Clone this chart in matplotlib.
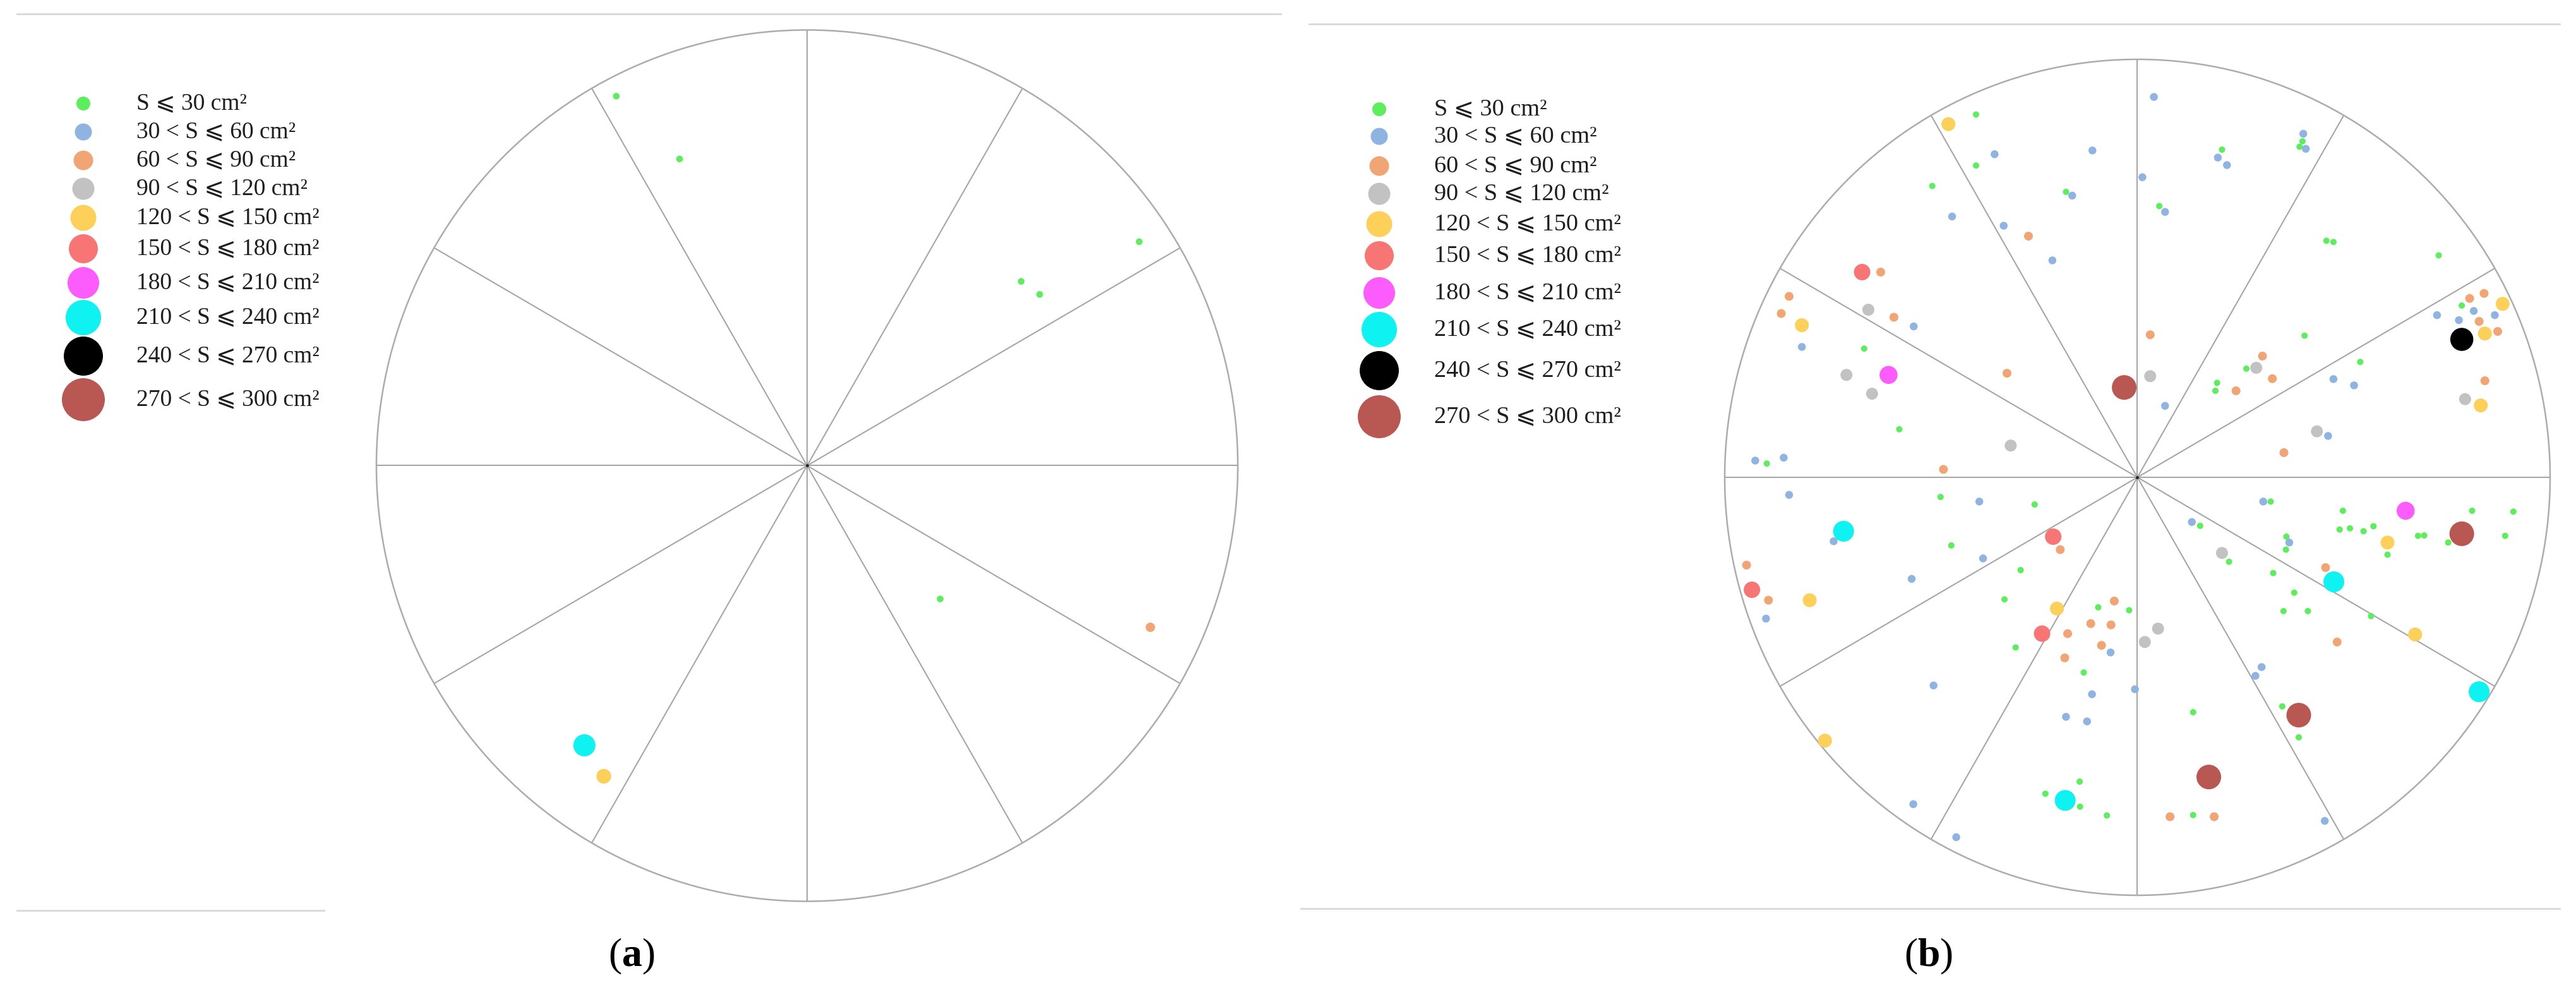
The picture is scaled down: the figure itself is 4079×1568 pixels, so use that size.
import numpy as np
import matplotlib
matplotlib.use("Agg")
import matplotlib.pyplot as plt
from matplotlib.patches import Circle

plt.rcParams['mathtext.fontset'] = 'custom'
plt.rcParams['mathtext.rm'] = 'Liberation Serif'
plt.rcParams['mathtext.bf'] = 'Liberation Serif:bold'

# ---------------- data ----------------
labels = ['S ⩽ 30 cm²', '30 < S ⩽ 60 cm²', '60 < S ⩽ 90 cm²', '90 < S ⩽ 120 cm²',
          '120 < S ⩽ 150 cm²', '150 < S ⩽ 180 cm²', '180 < S ⩽ 210 cm²',
          '210 < S ⩽ 240 cm²', '240 < S ⩽ 270 cm²', '270 < S ⩽ 300 cm²']
colors = ['#5cee5c', '#8fb4e2', '#f2a574', '#c2c2c2', '#fdd05a',
          '#f87575', '#fb5cfb', '#0ff2f2', '#000000', '#b95752']
panel_sizes_px = [10, 12.5, 14, 19, 22, 26, 28.5, 33, 36.5, 39]
legend_sizes_px = [22, 27, 31, 35, 41, 46, 50, 56, 62, 68]

# panel (a): positions normalised to the circle radius
a_x = [-0.443, -0.296, 0.771, 0.497, 0.540, 0.309, 0.797, -0.517, -0.472]
a_y = [0.848, 0.704, 0.514, 0.423, 0.393, -0.306, -0.371, -0.642, -0.713]
a_cat = [0, 0, 0, 0, 0, 0, 2, 7, 4]

# panel (b)
b_x = [-0.458, -0.391, -0.346, -0.109, -0.391, -0.497, -0.173, -0.158, -0.449, -0.324,
       -0.264, -0.206, -0.667, -0.622, -0.844, -0.863, -0.813, -0.652, -0.590, -0.542,
       -0.813, -0.662, -0.705, -0.603, -0.643, -0.316, -0.032, -0.577, -0.307, -0.926,
       -0.898, -0.857, -0.470,
       0.040, 0.402, 0.400, 0.393, 0.408, 0.205, 0.195, 0.217, 0.012, 0.053,
       0.067, 0.458, 0.475, 0.730, 0.840, 0.805, 0.885, 0.786, 0.815, 0.726,
       0.779, 0.866, 0.828, 0.842, 0.873, 0.786, 0.031, 0.405, 0.303, 0.288,
       0.264, 0.327, 0.193, 0.189, 0.239, 0.031, 0.067, 0.540, 0.475, 0.525,
       0.842, 0.794, 0.832, 0.435, 0.462, 0.355,
       -0.844, -0.477, -0.383, -0.249, -0.712, -0.736, -0.451, -0.374, -0.204, -0.187,
       -0.283, -0.947, -0.934, -0.894, -0.794, -0.900, -0.547, -0.322, -0.195, -0.231,
       -0.169, -0.095, -0.056, -0.020, -0.113, -0.064, -0.087, -0.065, -0.176, -0.295,
       -0.130, -0.110, -0.006, -0.173, -0.122, -0.494, -0.757, -0.140, -0.223, -0.175,
       -0.139, -0.074, -0.543, -0.439,
       0.305, 0.323, 0.498, 0.650, 0.811, 0.911, 0.132, 0.152, 0.490, 0.515,
       0.548, 0.572, 0.786, 0.680, 0.695, 0.753, 0.891, 0.606, 0.606, 0.361,
       0.368, 0.360, 0.205, 0.222, 0.329, 0.456, 0.476, 0.380, 0.354, 0.413,
       0.566, 0.673, 0.484, 0.050, 0.018, 0.301, 0.286, 0.828, 0.351, 0.391,
       0.391, 0.135, 0.173, 0.079, 0.135, 0.186, 0.454]
b_y = [0.845, 0.868, 0.773, 0.782, 0.746, 0.697, 0.683, 0.674, 0.624, 0.602,
       0.577, 0.519, 0.491, 0.491, 0.433, 0.392, 0.364, 0.401, 0.383, 0.361,
       0.312, 0.308, 0.245, 0.245, 0.200, 0.249, 0.215, 0.115, 0.076, 0.040,
       0.033, 0.047, 0.019,
       0.910, 0.822, 0.804, 0.791, 0.786, 0.784, 0.765, 0.747, 0.718, 0.649,
       0.635, 0.566, 0.563, 0.531, 0.440, 0.428, 0.415, 0.411, 0.398, 0.388,
       0.376, 0.388, 0.373, 0.344, 0.349, 0.330, 0.341, 0.339, 0.290, 0.262,
       0.260, 0.236, 0.226, 0.207, 0.207, 0.242, 0.171, 0.276, 0.235, 0.220,
       0.231, 0.187, 0.172, 0.110, 0.099, 0.059,
       -0.042, -0.047, -0.058, -0.065, -0.129, -0.153, -0.163, -0.194, -0.142, -0.173,
       -0.222, -0.210, -0.269, -0.294, -0.294, -0.338, -0.243, -0.292, -0.314, -0.374,
       -0.374, -0.311, -0.296, -0.318, -0.350, -0.353, -0.402, -0.419, -0.432, -0.407,
       -0.467, -0.519, -0.507, -0.573, -0.584, -0.498, -0.630, -0.728, -0.757, -0.773,
       -0.788, -0.809, -0.782, -0.861,
       -0.058, -0.058, -0.080, -0.080, -0.080, -0.082, -0.107, -0.116, -0.125, -0.122,
       -0.129, -0.117, -0.135, -0.140, -0.139, -0.156, -0.140, -0.156, -0.185, -0.142,
       -0.156, -0.173, -0.181, -0.202, -0.229, -0.216, -0.250, -0.276, -0.320, -0.320,
       -0.332, -0.376, -0.394, -0.362, -0.394, -0.454, -0.475, -0.513, -0.548, -0.569,
       -0.622, -0.562, -0.717, -0.812, -0.808, -0.812, -0.822]
b_cat = [4, 0, 1, 1, 0, 0, 0, 1, 1, 1,
         2, 1, 5, 2, 2, 2, 4, 3, 2, 1,
         1, 0, 3, 6, 3, 2, 9, 0, 3, 1,
         0, 1, 2,
         1, 1, 0, 0, 1, 0, 1, 1, 1, 0,
         1, 0, 0, 0, 2, 2, 4, 0, 1, 1,
         1, 1, 2, 4, 2, 8, 2, 0, 2, 3,
         0, 2, 0, 0, 2, 3, 1, 0, 1, 1,
         2, 3, 4, 3, 1, 2,
         1, 0, 1, 0, 7, 1, 0, 1, 5, 2,
         0, 2, 5, 2, 4, 1, 1, 0, 4, 5,
         2, 0, 2, 0, 2, 2, 2, 1, 2, 0,
         0, 1, 1, 1, 1, 1, 4, 0, 0, 7,
         0, 0, 1, 1,
         1, 0, 0, 6, 0, 0, 1, 0, 0, 0,
         0, 0, 9, 0, 0, 0, 0, 4, 0, 0,
         1, 0, 3, 0, 0, 2, 7, 0, 0, 0,
         0, 4, 2, 3, 3, 1, 1, 7, 0, 9,
         0, 0, 9, 2, 0, 2, 1]

W, H = 4080, 1568
PX2PT = 72.0 / 100.0

fig = plt.figure(figsize=(W / 100, H / 100), dpi=100)
fig.patch.set_facecolor('white')

LIM = 1.05


def make_panel(cx, cy, rx, ry, xs, ys, cats, scale):
    left = (cx - rx * LIM) / W
    bottom = (H - (cy + ry * LIM)) / H
    ax = fig.add_axes([left, bottom, 2 * rx * LIM / W, 2 * ry * LIM / H])
    ax.set_xlim(-LIM, LIM)
    ax.set_ylim(-LIM, LIM)
    ax.set_aspect('auto')
    ax.axis('off')
    for ang in np.arange(0, 180, 30):
        t = np.deg2rad(ang)
        ax.plot([-np.cos(t), np.cos(t)], [-np.sin(t), np.sin(t)],
                color='#a6a6a6', lw=1.5, zorder=1, solid_capstyle='butt')
    ax.add_patch(Circle((0, 0), 1, fill=False, ec='#acacac', lw=1.8, zorder=1))
    ax.scatter([0], [0], s=6, color='#222222', zorder=2)
    xs = np.array(xs); ys = np.array(ys); cats = np.array(cats)
    for k in range(len(labels)):
        m = cats == k
        if m.any():
            d = panel_sizes_px[k] * scale * PX2PT
            ax.scatter(xs[m], ys[m], s=d ** 2, color=colors[k], edgecolors='none',
                       zorder=3 + k, clip_on=False)
    return ax


make_panel(1278, 737.5, 682, 690, a_x, a_y, a_cat, 1.06)
make_panel(3384.5, 756, 653.5, 662, b_x, b_y, b_cat, 1.0)

# overlay in pixel coordinates for legends, rules and panel labels
ov = fig.add_axes([0, 0, 1, 1])
ov.set_xlim(0, W)
ov.set_ylim(H, 0)
ov.axis('off')
ov.set_zorder(0)

rule_kw = dict(color='#d8d8d8', lw=2.0)
ov.plot([27, 2028], [22, 22], **rule_kw)
ov.plot([27, 513], [1442, 1442], **rule_kw)
ov.plot([2073, 4053], [38, 38], **rule_kw)
ov.plot([2060, 4053], [1439, 1439], **rule_kw)

fams = ['Liberation Serif', 'DejaVu Serif', 'DejaVu Sans']


def legend(mx, tx, rows, fs):
    for k, y in enumerate(rows):
        d = legend_sizes_px[k] * PX2PT
        ov.scatter([mx], [y], s=d ** 2, color=colors[k], edgecolors='none')
        ov.text(tx, y, labels[k], fontsize=fs, family=fams, color='#1e1e1e',
                va='center', ha='left')


legend(132, 216, [164, 209, 254, 299, 345, 394, 448, 503, 564, 633], 27)
legend(2184, 2271, [173, 216, 263, 307, 355, 405, 464, 522, 587, 660], 27.5)

ov.text(1000, 1515, r'($\mathbf{a}$)', fontsize=46, family='Liberation Serif',
        ha='center', va='center', color='black')
ov.text(3054, 1515, r'($\mathbf{b}$)', fontsize=46, family='Liberation Serif',
        ha='center', va='center', color='black')

fig.savefig('out.png', dpi=100, facecolor='white')
